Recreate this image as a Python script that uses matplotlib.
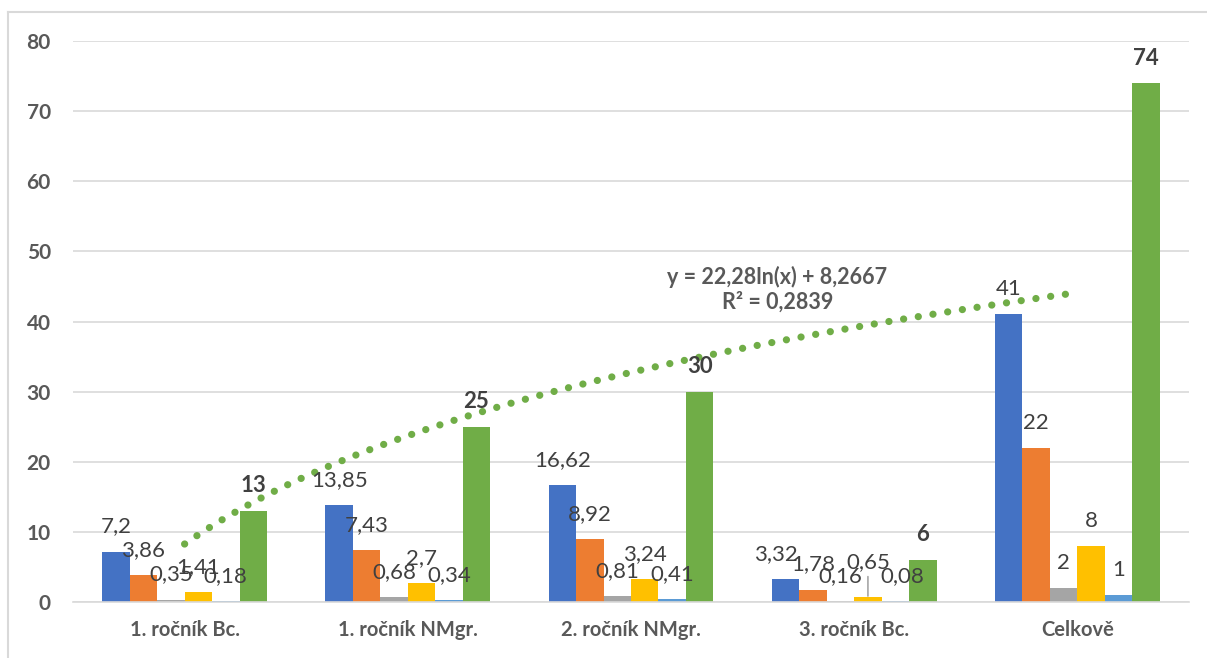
import numpy as np
import matplotlib
matplotlib.use("Agg")
import matplotlib.pyplot as plt
from matplotlib.lines import Line2D

plt.rcParams['font.family'] = ['Lato', 'DejaVu Sans']

categories = ["1. ročník Bc.", "1. ročník NMgr.", "2. ročník NMgr.", "3. ročník Bc.", "Celkově"]
series_blue = [7.2, 13.85, 16.62, 3.32, 41]
series_orange = [3.86, 7.43, 8.92, 1.78, 22]
series_gray = [0.35, 0.68, 0.81, 0.16, 2]
series_yellow = [1.41, 2.7, 3.24, 0.65, 8]
series_lightblue = [0.18, 0.34, 0.41, 0.08, 1]
series_green = [13, 25, 30, 6, 74]

# logarithmic trendline of the green series: y = a*ln(x) + b
trend_a = 22.28
trend_b = 8.2667
trend_r2 = 0.2839

series = [series_blue, series_orange, series_gray, series_yellow, series_lightblue, series_green]
colors = ["#4472C4", "#ED7D31", "#A5A5A5", "#FFC000", "#5B9BD5", "#70AD47"]

W, H = 1207, 658
fig = plt.figure(figsize=(W / 100, H / 100), dpi=100)
ax = fig.add_axes([73 / W, 1 - 602 / H, (1189 - 73) / W, (602 - 41) / H])

x = np.arange(len(categories))
bw = 0.123
label_color = "#404040"
axis_color = "#595959"

def fmt(v):
    return f"{v:g}".replace(".", ",")

# per-label nudges in pixels (dx, dy)
nudges = {(0, 3): (-10, 0), (4, 3): (7, 0), (3, 3): (0, 10)}

for si, (vals, col) in enumerate(zip(series, colors)):
    xs = x + (si - 2.5) * bw
    ax.bar(xs, vals, width=bw, color=col, zorder=2)
    for ci, (xi, v) in enumerate(zip(xs, vals)):
        dx, dy = nudges.get((si, ci), (0, 0))
        kw = {}
        if (si, ci) == (3, 3):
            kw['arrowprops'] = dict(arrowstyle='-', color='#A6A6A6', lw=1.2,
                                    shrinkA=1, shrinkB=1)
        ax.annotate(fmt(v), xy=(xi, v), xytext=(dx * 0.72, (25 + dy) * 0.72),
                    textcoords='offset points', ha='center', va='center',
                    fontsize=16, color=label_color,
                    fontweight='bold' if si == 5 else 'normal', zorder=4, **kw)

# trendline
tx = np.linspace(1, 5, 200)
ty = trend_a * np.log(tx) + trend_b
ax.plot(tx - 1, ty, color="#70AD47", lw=5.2, linestyle=(0, (0.01, 2.05)),
        dash_capstyle='round', solid_capstyle='round', zorder=3)
eq = f"y = {fmt(trend_a)}ln(x) + {fmt(trend_b)}\nR² = {fmt(trend_r2)}"
ax.text(2.656, 44.6, eq, ha='center', va='center', fontsize=15.5,
        fontweight='bold', color=axis_color, linespacing=1.15, zorder=5)

ax.set_xlim(-0.5, 4.5)
ax.set_ylim(0, 80)
ax.set_yticks(np.arange(0, 81, 10))
ax.yaxis.grid(True, color="#D9D9D9", lw=1.2, zorder=0)
ax.set_axisbelow(True)
for s in ["top", "right", "left"]:
    ax.spines[s].set_visible(False)
ax.spines["bottom"].set_color("#D9D9D9")
ax.spines["bottom"].set_linewidth(1.2)
ax.tick_params(axis='y', length=0, pad=16, labelsize=15, labelcolor=axis_color)
ax.tick_params(axis='x', length=0, pad=13, labelsize=14.5, labelcolor=axis_color)
ax.set_xticks(x)
ax.set_xticklabels(categories, fontweight='bold')
for t in ax.get_yticklabels():
    t.set_fontweight('bold')

# chart area border
fig.add_artist(Line2D([8 / W, 8 / W], [0, 1 - 12 / H], transform=fig.transFigure,
                      color="#D9D9D9", lw=1.5))
fig.add_artist(Line2D([8 / W, 1], [1 - 12 / H, 1 - 12 / H], transform=fig.transFigure,
                      color="#D9D9D9", lw=1.5))

fig.savefig("out.png", dpi=100)
